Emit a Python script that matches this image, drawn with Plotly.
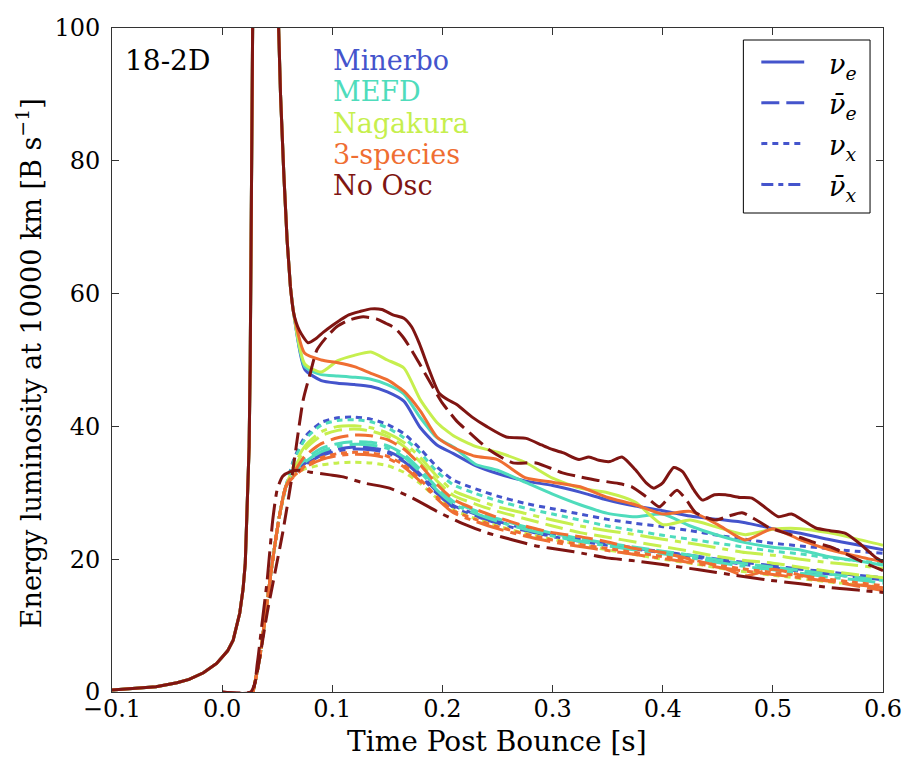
import plotly.graph_objects as go

FONT = "DejaVu Serif"

# ---- colours of the transport schemes ----
C_MINERBO = "#4454cc"
C_MEFD = "#4fdcbc"
C_NAGAKURA = "#c6ef4e"
C_THREE = "#ef6e32"
C_NOOSC = "#7f1512"

MODEL_NAMES = ["Minerbo", "MEFD", "Nagakura", "3-species", "No Osc"]
MODEL_COLORS = [C_MINERBO, C_MEFD, C_NAGAKURA, C_THREE, C_NOOSC]

# ---- axis ticks ----
X_TICKS = [-0.1, 0.0, 0.1, 0.2, 0.3, 0.4, 0.5, 0.6]
X_TICK_TEXT = ["\u22120.1", "0.0", "0.1", "0.2", "0.3", "0.4", "0.5", "0.6"]
Y_TICKS = [0, 20, 40, 60, 80, 100]

# ---- neutronization burst of nu_e (identical in every run before mixing) ----
T_BOUNCE = [-0.100, -0.090, -0.072, -0.060, -0.041, -0.030, -0.017, -0.005, 0.005, 0.010,
            0.016, 0.019, 0.021, 0.0226, 0.0245, 0.0255, 0.0265, 0.0275, 0.029, 0.032,
            0.036, 0.041, 0.046, 0.050, 0.053, 0.056, 0.059, 0.062]
NUE_BOUNCE = [0.3, 0.4, 0.6, 0.8, 1.4, 1.9, 2.9, 4.3, 6.2, 7.8,
              11.9, 15.5, 19.4, 27.0, 37.0, 50.0, 70.0, 95.0, 130.0, 165.0,
              175.0, 160.0, 130.0, 106.0, 90.0, 78.0, 68.0, 61.0]

# ---- early rise of the other flavours in the mixing runs ----
T_RISE = [0.028, 0.034, 0.040, 0.046, 0.052, 0.058]
MIX_RISE = [0.0, 5.0, 12.5, 20.0, 26.5, 31.0]

# ---- common time grid of the mixing runs [s] ----
T_MIX = [0.065, 0.075, 0.090, 0.105, 0.120, 0.135, 0.150, 0.165, 0.180, 0.195,
         0.210, 0.230, 0.250, 0.275, 0.300, 0.325, 0.350, 0.375, 0.400, 0.425,
         0.450, 0.475, 0.500, 0.525, 0.550, 0.575, 0.600]

# Minerbo closure
MINERBO_NUE = [57.0, 48.6, 46.9, 46.5, 46.3, 46.0, 45.2, 43.8, 39.8, 37.2, 35.9, 34.1, 32.9, 31.8,
               31.1, 30.1, 28.9, 28.0, 27.3, 26.5, 26.0, 25.5, 24.6, 23.9, 23.0, 22.2, 21.4]
MINERBO_ANUE = [32.8, 34.4, 35.9, 36.6, 36.9, 36.8, 36.3, 35.0, 32.8, 30.2, 28.1, 26.8, 25.7, 24.6,
                23.7, 23.0, 22.3, 21.7, 21.1, 20.6, 20.0, 19.5, 19.0, 18.5, 18.1, 17.6, 17.2]
MINERBO_NUX = [35.0, 38.4, 40.6, 41.3, 41.4, 41.1, 40.3, 38.9, 36.6, 33.9, 31.9, 30.6, 29.5, 28.4,
               27.6, 26.8, 26.0, 25.4, 24.9, 24.3, 23.6, 23.0, 22.4, 22.0, 21.6, 21.2, 20.9]
MINERBO_ANUX = [32.6, 34.2, 35.6, 36.3, 36.6, 36.5, 36.0, 34.7, 32.5, 29.9, 27.8, 26.5, 25.4, 24.3,
                23.4, 22.7, 22.1, 21.5, 21.0, 20.4, 19.8, 19.2, 18.7, 18.2, 17.8, 17.3, 16.9]

# MEFD closure
MEFD_NUE = [57.0, 49.0, 47.8, 47.6, 47.4, 47.1, 46.3, 44.9, 41.3, 38.3, 36.9, 34.3, 33.4, 31.6,
            29.8, 28.2, 26.9, 26.4, 26.8, 25.0, 23.6, 22.5, 21.8, 21.4, 20.4, 19.8, 19.1]
MEFD_ANUE = [33.0, 35.0, 36.7, 37.4, 37.7, 37.6, 37.1, 35.8, 33.5, 30.8, 28.7, 27.3, 26.1, 24.9,
             23.9, 23.1, 22.4, 21.8, 21.2, 20.6, 19.9, 19.3, 18.8, 18.3, 17.8, 17.3, 16.8]
MEFD_NUX = [34.8, 38.0, 40.2, 40.9, 41.0, 40.7, 39.8, 38.3, 36.0, 33.2, 31.2, 29.9, 28.8, 27.7,
            26.8, 25.9, 25.0, 24.3, 23.6, 23.0, 22.4, 21.8, 21.2, 20.8, 20.2, 19.8, 19.4]
MEFD_ANUX = [32.8, 34.6, 36.2, 37.0, 37.3, 37.2, 36.7, 35.4, 33.1, 30.4, 28.3, 26.9, 25.7, 24.5,
             23.5, 22.7, 22.0, 21.4, 20.8, 20.2, 19.5, 18.9, 18.4, 17.9, 17.3, 16.9, 16.4]

# Nagakura closure
NAGAKURA_NUE = [57.0, 49.4, 48.2, 49.9, 50.7, 51.2, 50.0, 48.8, 44.0, 40.6, 38.6, 37.0, 36.1, 34.6,
                32.2, 30.7, 30.0, 28.6, 25.2, 25.9, 24.8, 23.7, 24.5, 24.6, 24.0, 23.1, 22.1]
NAGAKURA_ANUE = [33.5, 36.5, 38.6, 39.4, 39.6, 39.3, 38.5, 37.0, 34.6, 31.8, 29.6, 28.3, 27.2, 26.1,
                 25.0, 24.0, 23.3, 22.6, 21.9, 21.2, 20.4, 19.8, 19.4, 18.8, 18.2, 17.7, 17.2]
NAGAKURA_NUX = [32.6, 33.6, 34.2, 34.5, 34.6, 34.5, 34.1, 33.1, 31.4, 29.2, 27.4, 26.1, 25.0, 23.9,
                23.0, 22.2, 21.4, 20.7, 20.0, 19.4, 18.7, 18.1, 17.6, 17.1, 16.6, 16.2, 15.8]
NAGAKURA_ANUX = [34.0, 37.0, 39.2, 40.0, 40.1, 39.8, 39.0, 37.6, 35.3, 32.5, 30.3, 29.0, 27.9, 26.9,
                 25.9, 25.0, 24.3, 23.7, 23.0, 22.4, 21.7, 21.0, 20.6, 20.0, 19.5, 19.1, 18.6]

# 3-species transport
THREE_NUE = [57.0, 51.0, 50.0, 49.6, 49.0, 48.0, 47.0, 45.3, 42.3, 38.4, 36.8, 35.5, 35.0, 32.3,
             31.6, 30.9, 29.3, 28.2, 26.8, 27.2, 25.2, 22.9, 24.6, 22.9, 21.5, 20.5, 19.6]
THREE_ANUE = [33.0, 35.5, 37.4, 38.3, 38.7, 38.6, 38.0, 36.6, 34.2, 31.3, 29.0, 27.5, 26.3, 25.0,
              24.0, 23.4, 22.6, 21.6, 21.0, 20.0, 19.0, 17.5, 18.5, 17.6, 16.8, 16.0, 15.3]
THREE_NUX = [32.5, 34.0, 35.3, 35.9, 36.1, 36.0, 35.5, 34.2, 32.0, 29.4, 27.3, 26.0, 24.9, 23.8,
             22.9, 22.2, 21.6, 21.0, 20.4, 19.8, 19.1, 18.5, 18.0, 17.5, 17.0, 16.5, 16.0]
THREE_ANUX = [32.4, 33.8, 35.0, 35.6, 35.8, 35.7, 35.2, 33.9, 31.7, 29.1, 27.0, 25.7, 24.6, 23.5,
              22.6, 21.9, 21.3, 20.7, 20.1, 19.5, 18.8, 18.2, 17.7, 17.2, 16.7, 16.2, 15.7]

# No oscillation reference run
T_NOOSC_NUE = [0.065, 0.070, 0.078, 0.085, 0.092, 0.100, 0.107, 0.115, 0.125, 0.135,
               0.145, 0.155, 0.165, 0.172, 0.179, 0.188, 0.197, 0.205, 0.213, 0.227,
               0.240, 0.258, 0.276, 0.290, 0.297, 0.310, 0.324, 0.333, 0.342, 0.352,
               0.363, 0.375, 0.385, 0.392, 0.400, 0.410, 0.418, 0.428, 0.436, 0.447,
               0.457, 0.470, 0.481, 0.493, 0.505, 0.517, 0.528, 0.539, 0.552, 0.566,
               0.580, 0.593, 0.600]
NOOSC_NUE = [57.0, 54.5, 52.6, 53.2, 54.2, 55.2, 56.0, 56.8, 57.3, 57.7,
             57.6, 56.8, 56.3, 55.0, 52.5, 48.5, 45.0, 44.0, 43.3, 41.4,
             40.0, 38.4, 38.2, 37.2, 36.7, 36.0, 35.0, 35.4, 34.9, 34.7,
             35.4, 33.5, 31.5, 30.7, 31.5, 33.8, 33.2, 30.5, 28.9, 29.7,
             29.7, 29.3, 29.2, 27.8, 26.4, 26.8, 25.8, 24.7, 24.3, 23.9,
             22.2, 20.3, 19.6]
T_NOOSC_ANUE = [0.000, 0.026, 0.030, 0.035, 0.041, 0.048, 0.055, 0.063, 0.0736, 0.080,
                0.086, 0.095, 0.104, 0.115, 0.128, 0.140, 0.149, 0.157, 0.164, 0.172,
                0.179, 0.191, 0.200, 0.207, 0.213, 0.225, 0.243, 0.264, 0.285, 0.309,
                0.325, 0.340, 0.360, 0.372, 0.385, 0.397, 0.405, 0.413, 0.422, 0.430,
                0.448, 0.460, 0.472, 0.485, 0.496, 0.510, 0.524, 0.538, 0.553, 0.570,
                0.585, 0.600]
NOOSC_ANUE = [0.0, 0.0, 1.5, 6.0, 12.0, 18.0, 24.0, 32.0, 44.0, 48.0,
              51.5, 53.5, 55.0, 56.0, 56.5, 56.2, 55.5, 54.8, 53.5, 51.5,
              49.5, 46.0, 43.5, 42.0, 40.8, 39.0, 36.4, 34.5, 34.5, 33.0,
              32.4, 31.9, 31.4, 30.9, 29.4, 27.9, 29.2, 30.4, 28.8, 27.0,
              25.9, 26.5, 27.0, 25.9, 24.8, 24.0, 23.3, 22.5, 21.8, 20.5,
              19.3, 18.3]
T_NOOSC_ANUX = [0.000, 0.027, 0.032, 0.036, 0.041, 0.046, 0.050, 0.055, 0.062, 0.070,
                0.080, 0.098, 0.110, 0.128, 0.152, 0.173, 0.195, 0.218, 0.240, 0.264,
                0.285, 0.309, 0.330, 0.349, 0.372, 0.400, 0.433, 0.465, 0.494, 0.525,
                0.553, 0.580, 0.600]
NOOSC_ANUX = [0.0, 0.0, 4.4, 10.0, 17.0, 26.0, 30.5, 32.5, 33.2, 33.4,
              33.1, 32.7, 32.4, 31.5, 30.7, 29.2, 27.2, 25.4, 24.0, 22.9,
              22.0, 21.4, 20.8, 20.2, 19.8, 19.2, 18.4, 17.6, 16.9, 16.3,
              15.7, 15.3, 15.0]

# line styles per flavour
DASH_NUE = "solid"
DASH_ANUE = "18px,7px"
DASH_NUX = "6px,5px"
DASH_ANUX = "28px,7px,6px,7px"
LW = 3

fig = go.Figure()


def add_line(x, y, color, dash, shape="spline"):
    fig.add_trace(go.Scatter(x=x, y=y, mode="lines",
                             line=dict(color=color, width=LW, dash=dash,
                                       shape=shape, smoothing=0.6 if shape == "spline" else None),
                             showlegend=False, hoverinfo="skip"))


def add_nue(after_t, after_v, color):
    # burst part drawn piecewise-linear, later evolution smoothed
    add_line(T_BOUNCE, NUE_BOUNCE, color, DASH_NUE, shape="linear")
    add_line([T_BOUNCE[-1]] + after_t, [NUE_BOUNCE[-1]] + after_v, color, DASH_NUE)


mixing_runs = [
    (C_MINERBO, MINERBO_NUE, MINERBO_ANUE, MINERBO_NUX, MINERBO_ANUX),
    (C_MEFD, MEFD_NUE, MEFD_ANUE, MEFD_NUX, MEFD_ANUX),
    (C_NAGAKURA, NAGAKURA_NUE, NAGAKURA_ANUE, NAGAKURA_NUX, NAGAKURA_ANUX),
    (C_THREE, THREE_NUE, THREE_ANUE, THREE_NUX, THREE_ANUX),
]
for color, nue, anue, nux, anux in mixing_runs:
    add_nue(T_MIX, nue, color)
    add_line(T_RISE + T_MIX, MIX_RISE + anue, color, DASH_ANUE)
    add_line(T_RISE + T_MIX, MIX_RISE + nux, color, DASH_NUX)
    add_line(T_RISE + T_MIX, MIX_RISE + anux, color, DASH_ANUX)

add_nue(T_NOOSC_NUE, NOOSC_NUE, C_NOOSC)
add_line(T_NOOSC_ANUE, NOOSC_ANUE, C_NOOSC, DASH_ANUE)
add_line(T_NOOSC_ANUX, NOOSC_ANUX, C_NOOSC, DASH_ANUX)

# ---- plot area geometry (pixels) used for paper coordinates ----
L, R, T, B = 112, 885, 28, 692
W_PX, H_PX = R - L, B - T


def px(x):
    return (x - L) / W_PX


def py(y):
    return (B - y) / H_PX


annotations = []
shapes = []

# run label
annotations.append(dict(x=px(123), y=py(60), xref="paper", yref="paper", text="18-2D",
                        showarrow=False, xanchor="left", yanchor="middle",
                        font=dict(family=FONT, size=28, color="black")))

# scheme labels coloured like their curves
for i, (name, color) in enumerate(zip(MODEL_NAMES, MODEL_COLORS)):
    annotations.append(dict(x=px(332), y=py(60 + 31.5 * i), xref="paper", yref="paper",
                            text=name, showarrow=False, xanchor="left", yanchor="middle",
                            font=dict(family=FONT, size=27, color=color)))

# flavour key
shapes.append(dict(type="rect", xref="paper", yref="paper", x0=px(745), x1=px(872),
                   y0=py(213), y1=py(40), line=dict(color="black", width=1),
                   fillcolor="white", layer="above"))
key_rows = [
    (DASH_NUE, "<i>\u03bd</i><sub><i>e</i></sub>"),
    (DASH_ANUE, "<i>\u03bd\u0304</i><sub><i>e</i></sub>"),
    (DASH_NUX, "<i>\u03bd</i><sub><i>x</i></sub>"),
    ("12px,5px,5px,5px", "<i>\u03bd\u0304</i><sub><i>x</i></sub>"),
]
for j, (dash, label) in enumerate(key_rows):
    yrow = 62 + 40.8 * j
    shapes.append(dict(type="line", xref="paper", yref="paper", x0=px(763), x1=px(806),
                       y0=py(yrow), y1=py(yrow), layer="above",
                       line=dict(color=C_MINERBO, width=LW, dash=dash)))
    annotations.append(dict(x=px(829), y=py(yrow + 4), xref="paper", yref="paper",
                            text=label, showarrow=False, xanchor="left", yanchor="middle",
                            font=dict(family=FONT, size=27, color="black")))

# axis titles
annotations.append(dict(x=px(498), y=py(741), xref="paper", yref="paper",
                        text="Time Post Bounce [s]", showarrow=False,
                        xanchor="center", yanchor="middle",
                        font=dict(family=FONT, size=28, color="black")))
annotations.append(dict(x=px(28), y=py(363), xref="paper", yref="paper",
                        text="Energy luminosity at 10000 km [B s<sup>\u22121</sup>]",
                        showarrow=False, textangle=-90, xanchor="center", yanchor="middle",
                        font=dict(family=FONT, size=27, color="black")))

axis_common = dict(showgrid=False, zeroline=False, showline=True, linecolor="#333333",
                   linewidth=1, mirror="ticks", ticks="inside", ticklen=7, tickwidth=1,
                   tickcolor="#333333", tickfont=dict(family=FONT, size=24, color="black"))

fig.update_layout(
    width=914, height=757,
    margin=dict(l=L, r=914 - R, t=T, b=757 - B),
    paper_bgcolor="white", plot_bgcolor="white",
    xaxis=dict(range=[-0.1, 0.6], tickvals=X_TICKS, ticktext=X_TICK_TEXT,
               ticklabelstandoff=-5, **axis_common),
    yaxis=dict(range=[0, 100], tickvals=Y_TICKS, ticklabelstandoff=6, **axis_common),
    annotations=annotations,
    shapes=shapes,
    showlegend=False,
)

fig.write_html("out.html")
